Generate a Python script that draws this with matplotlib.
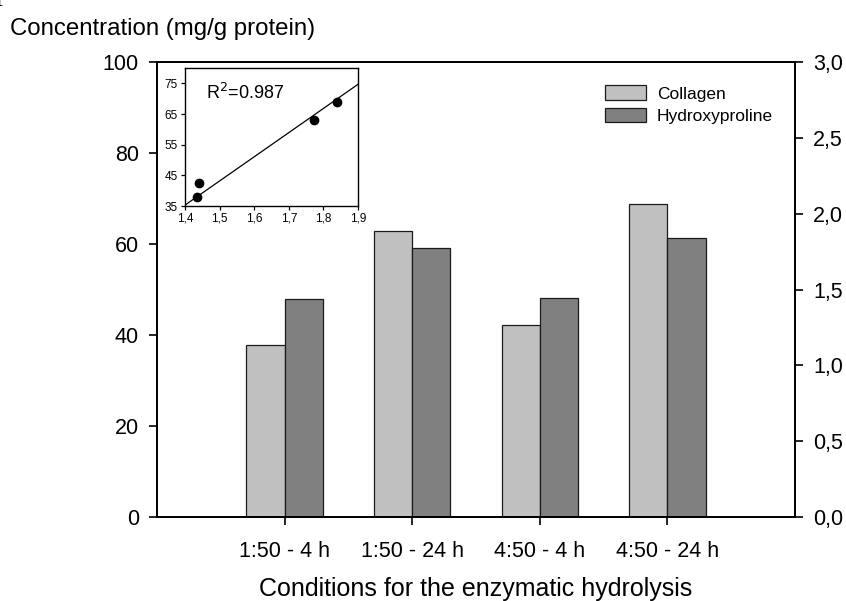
import matplotlib
matplotlib.use("Agg")
import matplotlib.pyplot as plt
import numpy as np

plt.rcParams['font.family'] = ['Liberation Sans', 'DejaVu Sans']

conditions = ["1:50 - 4 h", "1:50 - 24 h", "4:50 - 4 h", "4:50 - 24 h"]
collagen = [37.7, 62.9, 42.1, 68.7]
hydroxyproline = [47.9, 59.2, 48.1, 61.4]

left_ticks = [0, 20, 40, 60, 80, 100]
right_ticks = [0.0, 0.5, 1.0, 1.5, 2.0, 2.5, 3.0]

# inset correlation
inset_x = [1.435, 1.44, 1.773, 1.84]
inset_y = [38.0, 42.5, 63.0, 69.0]
fit_x = [1.4, 1.9]
fit_y = [35.3, 74.7]
inset_xticks = [1.4, 1.5, 1.6, 1.7, 1.8, 1.9]
inset_yticks = [35, 45, 55, 65, 75]


def comma(v, nd=1):
    return ("%.*f" % (nd, v)).replace(".", ",")


fig = plt.figure(figsize=(8.46, 6.01), dpi=100)
ax = fig.add_axes([0.1856, 0.1398, 0.7541, 0.757])

pos = np.arange(1, len(conditions) + 1)
w = 0.3
ax.bar(pos - w/2, collagen, w, color="#c0c0c0", edgecolor="#1a1a1a", linewidth=0.9, label="Collagen")
ax.bar(pos + w/2, hydroxyproline, w, color="#808080", edgecolor="#1a1a1a", linewidth=0.9, label="Hydroxyproline")

ax.set_xlim(0, 5)
ax.set_ylim(0, 100)
ax.set_xticks(pos)
ax.set_xticklabels(conditions, fontsize=15.5)
ax.set_yticks(left_ticks)
ax.set_yticklabels([str(t) for t in left_ticks], fontsize=15.5)
ax.tick_params(direction="out", length=6, width=1.2, pad=7)
ax.tick_params(axis="x", pad=11)
for s in ax.spines.values():
    s.set_linewidth(1.3)
ax.set_xlabel("Conditions for the enzymatic hydrolysis", fontsize=18, labelpad=11)

ax2 = ax.twinx()
ax2.set_ylim(0, 3.0)
ax2.set_yticks(right_ticks)
ax2.set_yticklabels([comma(t) for t in right_ticks], fontsize=15.5)
ax2.tick_params(direction="out", length=6, width=1.2, pad=7)
for s in ax2.spines.values():
    s.set_linewidth(1.3)

leg = ax.legend(loc="upper right", bbox_to_anchor=(0.99, 0.983), frameon=False, fontsize=12.5,
                handlelength=2.4, handleheight=0.9, labelspacing=0.35, handletextpad=0.6)

fig.text(0.012, 0.951, "Concentration (mg/g protein)", fontsize=17.3, va="center", ha="left")
fig.text(-0.005, 1 - 0.5/601, "protein.", fontsize=20, family="Liberation Serif", va="baseline", ha="left")

# inset
ins = fig.add_axes([0.2187, 0.6572, 0.2045, 0.2296])
ins.plot(fit_x, fit_y, color="black", linewidth=0.9)
ins.plot(inset_x, inset_y, "o", color="black", markersize=6)
ins.set_xlim(1.4, 1.9)
ins.set_ylim(35, 80)
ins.set_xticks(inset_xticks)
ins.set_xticklabels([comma(t) for t in inset_xticks], fontsize=8.5)
ins.set_yticks(inset_yticks)
ins.set_yticklabels([str(t) for t in inset_yticks], fontsize=8.5)
ins.tick_params(direction="out", length=3, width=0.9, pad=2)
for s in ins.spines.values():
    s.set_linewidth(1.0)
ins.text(0.12, 0.82, "R$^2$=0.987", transform=ins.transAxes, fontsize=13, va="center", ha="left")

fig.savefig("out.png", dpi=100)
